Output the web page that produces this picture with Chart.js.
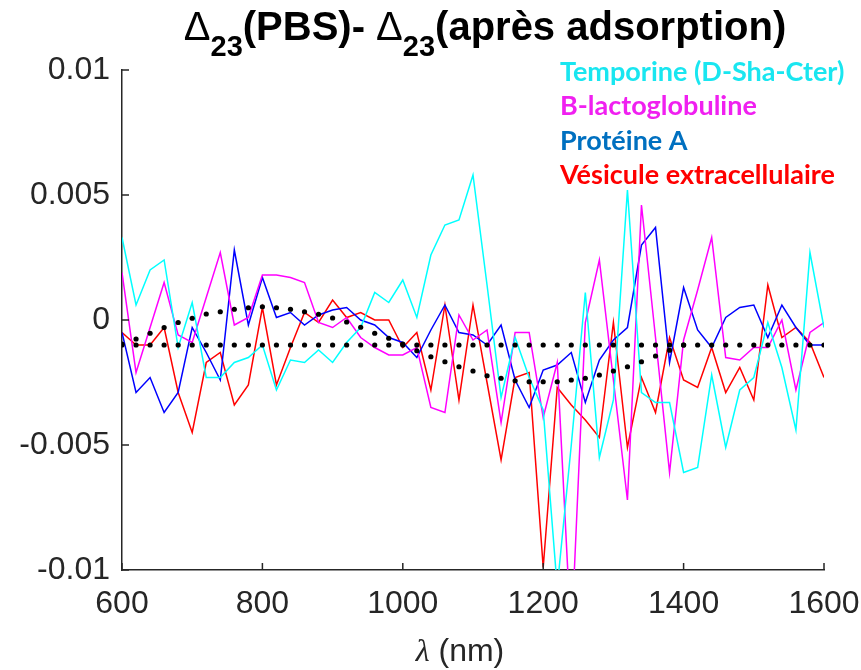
<!DOCTYPE html>
<html>
<head>
<meta charset="utf-8">
<script src="https://cdn.jsdelivr.net/npm/chart.js@4.4.1/dist/chart.umd.min.js"></script>
<style>
  html, body { margin: 0; padding: 0; background: #fff; }
  #wrap { width: 861px; height: 670px; }
</style>
</head>
<body>
<div id="wrap"><canvas id="grafico" width="861" height="670"></canvas></div>
<script>
// Longueurs d'onde (nm)
const lambda = [600, 620, 640, 660, 680, 700, 720, 740, 760, 780,
    800, 820, 840, 860, 880, 900, 920, 940, 960, 980,
    1000, 1020, 1040, 1060, 1080, 1100, 1120, 1140, 1160, 1180,
    1200, 1220, 1240, 1260, 1280, 1300, 1320, 1340, 1360, 1380,
    1400, 1420, 1440, 1460, 1480, 1500, 1520, 1540, 1560, 1580, 1600]

// Series
const temporine = [0.0033, 0.0006, 0.002, 0.0024, -0.0011, 0.0007, -0.0023, -0.0023, -0.0017, -0.0015,
    -0.001, -0.0028, -0.0016, -0.0017, -0.0012, -0.0017, -0.0009, -0.0003, 0.0011, 0.0007,
    0.0016, 0.0001, 0.0026, 0.0038, 0.004, 0.0058, 0.0014, -0.0031, -0.0007, -0.0023,
    -0.0036, -0.0107, -0.005, 0.0011, -0.0055, -0.0032, 0.0052, -0.0029, -0.0033, -0.0033,
    -0.0061, -0.0059, -0.0022, -0.0051, -0.0028, -0.0023, -0.0001, -0.0019, -0.0044, 0.0027, -0.0003]

const lactoglobuline = [0.0019, -0.0021, -0.0003, 0.0015, -0.0006, -0.0009, 0.0009, 0.0027, -0.0002, 0.0001,
    0.0018, 0.0018, 0.0017, 0.0015, -0.0001, -0.0003, 0.0001, -0.0007, -0.0011, -0.0014,
    -0.0014, -0.0011, -0.0035, -0.0037, 0.0002, -0.0008, -0.0004, -0.0041, -0.0005, -0.0005,
    -0.0039, -0.0017, -0.0128, -0.0001, 0.0024, -0.0024, -0.0072, 0.0046, -0.0007, -0.0061,
    -0.0008, 0.0012, 0.0033, -0.0015, -0.0016, -0.0011, -0.0011, 0.0, -0.0028, -0.0005, -0.0001]

const proteineA = [-0.0005, -0.0029, -0.0023, -0.0037, -0.0029, -0.0003, -0.0013, -0.0024, 0.0028, -0.0002,
    0.0017, 0.0001, 0.0003, -0.0002, 0.0002, 0.0004, 0.0005, 0.0, -0.0002, -0.0007,
    -0.0009, -0.0015, -0.0004, 0.0006, -0.0005, -0.0006, -0.001, -0.0002, -0.0024, -0.0035,
    -0.002, -0.0018, -0.0013, -0.0033, -0.0016, -0.0008, -0.0003, 0.003, 0.0037, -0.0017,
    0.0013, -0.0004, -0.0011, 0.0001, 0.0005, 0.0006, -0.0007, 0.0006, -0.0003, -0.001, -0.001]

const vesicule = [-0.0005, -0.001, -0.001, -0.0003, -0.0029, -0.0045, -0.0017, -0.0013, -0.0034, -0.0026,
    0.0005, -0.0026, -0.0011, 0.0003, -0.0001, 0.0008, 0.0001, 0.0003, 0.0, 0.0,
    -0.0011, -0.0005, -0.0028, 0.0006, -0.0032, 0.0006, -0.0025, -0.0056, -0.0023, -0.0021,
    -0.0099, -0.0027, -0.0034, -0.004, -0.0047, -0.0001, -0.0051, -0.0023, -0.0037, -0.0007,
    -0.0024, -0.0027, -0.0011, -0.0029, -0.0019, -0.0032, 0.0014, -0.0007, -0.0003, -0.0009, -0.0023]

// Courbes pointillees noires
const moyenne = [-0.001, -0.001, -0.001, -0.001, -0.001, -0.001, -0.001, -0.001, -0.001, -0.001,
    -0.001, -0.001, -0.001, -0.001, -0.001, -0.001, -0.001, -0.001, -0.001, -0.001,
    -0.001, -0.001, -0.001, -0.001, -0.001, -0.001, -0.001, -0.001, -0.001, -0.001,
    -0.001, -0.001, -0.001, -0.001, -0.001, -0.001, -0.001, -0.001, -0.001, -0.001,
    -0.001, -0.001, -0.001, -0.001, -0.001, -0.001, -0.001, -0.001, -0.001, -0.001, -0.001]

const oscillation = [-0.00096, -0.00076, -0.00053, -0.0003, -0.0001, 0.00007, 0.00024, 0.00033, 0.00043, 0.00049,
    0.00053, 0.00049, 0.00043, 0.00033, 0.00023, 0.00008, -0.00008, -0.00029, -0.00053, -0.00073,
    -0.00096, -0.00123, -0.00147, -0.00167, -0.00187, -0.00204, -0.00223, -0.00233, -0.00243, -0.00247,
    -0.00247, -0.00247, -0.0024, -0.00233, -0.0022, -0.00204, -0.00187, -0.00167, -0.00144, -0.00121, -0.001]

const xTicks = [600, 800, 1000, 1200, 1400, 1600]
const yTicks = [-0.01, -0.005, 0, 0.005, 0.01]

const legende = [
    { texte: 'Temporine (D-Sha-Cter)', couleur: '#19E6F0' },
    { texte: 'B-lactoglobuline', couleur: '#F020F0' },
    { texte: 'Protéine A', couleur: '#0070C0' },
    { texte: 'Vésicule extracellulaire', couleur: '#FF0000' },
]

const points = serie => serie.map((v, i) => ({ x: lambda[i], y: v }))

const ligne = (label, serie, couleur) => ({
    label: label,
    data: points(serie),
    borderColor: couleur,
    borderWidth: 1.5,
    pointRadius: 0,
    tension: 0,
})

const pointille = (label, serie) => ({
    label: label,
    data: points(serie),
    showLine: false,
    pointRadius: 2.6,
    pointBackgroundColor: '#000',
    pointBorderWidth: 0,
})

// Ticks vers l'interieur, titre, legende et nom d'axe
const decorations = {
    id: 'decorations',
    afterDraw(chart) {
        const { ctx, chartArea: a, scales: { x, y } } = chart
        ctx.save()
        ctx.strokeStyle = '#262626'
        ctx.lineWidth = 1.5
        ctx.beginPath()
        xTicks.forEach(v => {
            const px = x.getPixelForValue(v)
            ctx.moveTo(px, a.bottom)
            ctx.lineTo(px, a.bottom - 7)
        })
        yTicks.forEach(v => {
            const py = y.getPixelForValue(v)
            ctx.moveTo(a.left, py)
            ctx.lineTo(a.left + 7, py)
        })
        ctx.stroke()

        // titre avec indices
        const morceaux = [
            ['Δ', '40px "Liberation Sans"', 0],
            ['23', 'bold 29px "Liberation Sans"', 16],
            ['(PBS)- ', 'bold 40px "Liberation Sans"', 0],
            ['Δ', '40px "Liberation Sans"', 0],
            ['23', 'bold 29px "Liberation Sans"', 16],
            ['(après adsorption)', 'bold 40px "Liberation Sans"', 0],
        ]
        let total = 0
        morceaux.forEach(m => { ctx.font = m[1]; total += ctx.measureText(m[0]).width })
        let cx = 485 - total / 2
        ctx.fillStyle = '#000'
        ctx.textBaseline = 'alphabetic'
        ctx.textAlign = 'left'
        morceaux.forEach(m => {
            ctx.font = m[1]
            ctx.fillText(m[0], cx, 40 + m[2])
            cx += ctx.measureText(m[0]).width
        })

        // legende
        ctx.font = 'bold 27px Lato'
        ctx.textBaseline = 'middle'
        legende.forEach((l, i) => {
            ctx.fillStyle = l.couleur
            ctx.fillText(l.texte, 560, 72 + i * 34.5)
        })

        // nom de l'axe x
        ctx.fillStyle = '#262626'
        ctx.textBaseline = 'alphabetic'
        ctx.font = 'italic 32px "Liberation Serif"'
        const wl = ctx.measureText('λ').width
        ctx.font = '32px "Liberation Sans"'
        const wr = ctx.measureText(' (nm)').width
        let lx = 460 - (wl + wr) / 2
        ctx.font = 'italic 32px "Liberation Serif"'
        ctx.fillText('λ', lx, 661)
        ctx.font = '32px "Liberation Sans"'
        ctx.fillText(' (nm)', lx + wl, 661)
        ctx.restore()
    }
}

const config = {
    type: 'line',
    data: {
        datasets: [
            pointille('Moyenne', moyenne),
            pointille('Oscillation', oscillation),
            ligne('Temporine (D-Sha-Cter)', temporine, '#00FFFF'),
            ligne('B-lactoglobuline', lactoglobuline, '#FF00FF'),
            ligne('Protéine A', proteineA, '#0000FF'),
            ligne('Vésicule extracellulaire', vesicule, '#FF0000'),
        ]
    },
    options: {
        responsive: false,
        animation: false,
        layout: { padding: { top: 70, right: 37, left: 0, bottom: 0 } },
        plugins: {
            legend: { display: false },
            tooltip: { enabled: false },
            title: { display: false },
        },
        scales: {
            x: {
                type: 'linear',
                min: 600,
                max: 1600,
                afterFit: s => {
                    s.height = 100
                    s.paddingLeft = 0
                    s.paddingRight = 0
                },
                afterBuildTicks: s => { s.ticks = xTicks.map(v => ({ value: v })) },
                grid: { drawOnChartArea: false, drawTicks: false },
                border: { display: true, color: '#262626', width: 1.5 },
                ticks: {
                    color: '#262626',
                    padding: 15,
                    maxRotation: 0,
                    font: { family: '"Liberation Sans"', size: 32 },
                    callback: v => String(v),
                },
            },
            y: {
                min: -0.01,
                max: 0.01,
                afterFit: s => {
                    s.width = 122
                    s.paddingTop = 0
                    s.paddingBottom = 0
                },
                afterBuildTicks: s => { s.ticks = yTicks.map(v => ({ value: v })) },
                grid: { drawOnChartArea: false, drawTicks: false },
                border: { display: true, color: '#262626', width: 1.5 },
                ticks: {
                    color: '#262626',
                    padding: 12,
                    font: { family: '"Liberation Sans"', size: 32 },
                    callback: v => String(v),
                },
            },
        },
    },
    plugins: [decorations],
}

new Chart(document.getElementById('grafico'), config)
</script>
</body>
</html>
